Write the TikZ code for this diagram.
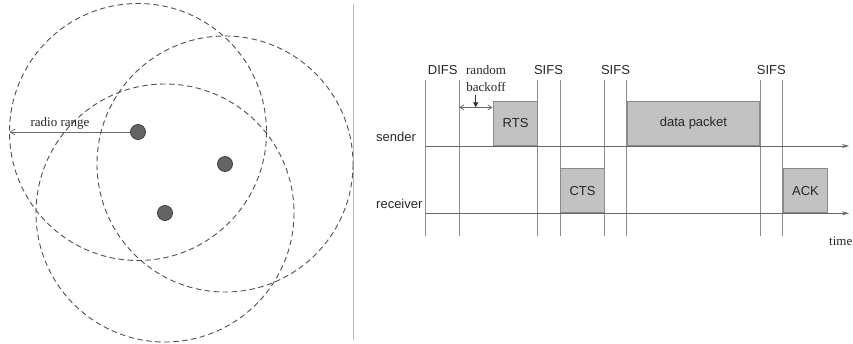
\documentclass[tikz,border=0pt]{standalone}
\usepackage{fontspec}
\setmainfont{Liberation Serif}
\newfontfamily\hsans{Liberation Sans}
\usetikzlibrary{arrows.meta}
\definecolor{dotfill}{HTML}{646464}
\definecolor{dotline}{HTML}{404040}
\definecolor{circline}{HTML}{505050}
\definecolor{vline}{HTML}{8C8C8C}
\definecolor{axisline}{HTML}{666666}
\definecolor{pktfill}{HTML}{C2C2C2}
\definecolor{pktline}{HTML}{8A8A8A}
\definecolor{sepline}{HTML}{F0A0A0}
\tikzset{
  nodedot/.style={circle,fill=dotfill,draw=dotline,line width=0.8pt,minimum size=15pt,inner sep=0pt},
  rangecirc/.style={draw=circline,dash pattern=on 5.5pt off 3.5pt,line width=0.9pt},
  sanslbl/.style={font=\hsans\fontsize{13}{13}\selectfont,inner sep=0pt,text=black!85},
  seriflbl/.style={font=\fontsize{13}{13}\selectfont,inner sep=0pt,text=black!85},
  timeline/.style={draw=vline,line width=0.8pt},
  timeaxis/.style={draw=axisline,line width=0.8pt,-{Stealth[length=7pt,width=4pt]}},
  pkt/.style={draw=pktline,fill=pktfill,line width=0.9pt,anchor=south west,inner sep=0pt,
    font=\hsans\fontsize{13}{13}\selectfont,text=black!85}
}
\begin{document}
\begin{tikzpicture}[x=1pt,y=-1pt]
\useasboundingbox (0,0) rectangle (853,343);
\clip (0,0) rectangle (853,343);
% separator
\draw[sepline,line width=0.9pt] (353,4) -- (353,340);
% ---------- left panel ----------
\node[nodedot] (n1) at (138,132) {};
\node[nodedot] (n2) at (225,164) {};
\node[nodedot] (n3) at (165,213) {};
\draw[rangecirc] (n1.center) circle[radius=128.5];
\draw[rangecirc] (n2.center) circle[radius=128];
\draw[rangecirc] (n3.center) circle[radius=129];
\coordinate (edge) at (9.5,132);
\draw[draw=axisline,line width=0.7pt,-{Straight Barb[length=5pt,width=6pt]}] (n1.west) -- (edge);
\node[seriflbl] (rr) at (60,123) {radio range};
% ---------- right panel ----------
\foreach \n/\x in {a/425.7,b/459.3,c/537,d/560,e/604.3,f/626.7,g/760,h/782.7}{
  \coordinate (t\n) at (\x,80);
  \coordinate (b\n) at (\x,236);
  \draw[timeline] (t\n) -- (b\n);
}
\coordinate (s0) at (425.7,146);
\coordinate (s1) at (849,146);
\coordinate (r0) at (425.7,213.3);
\coordinate (r1) at (849,213.3);
\draw[timeaxis] (s0) -- (s1);
\draw[timeaxis] (r0) -- (r1);
\node[sanslbl,anchor=west] (snd) at (376,137) {sender};
\node[sanslbl,anchor=west] (rcv) at (376,204) {receiver};
\node[sanslbl] (difs) at (442.7,70) {DIFS};
\node[sanslbl] (sifs1) at (548.5,70) {SIFS};
\node[sanslbl] (sifs2) at (615.5,70) {SIFS};
\node[sanslbl] (sifs3) at (771.3,70) {SIFS};
\node[seriflbl] (rand) at (486,70) {random};
\node[seriflbl] (back) at (486,87) {backoff};
\node[pkt,minimum width=43.7pt,minimum height=44.3pt] (rts) at (493.3,146) {RTS};
\node[pkt,minimum width=132.6pt,minimum height=44.3pt] (data) at (626.7,146) {data packet};
\node[pkt,minimum width=44.3pt,minimum height=44pt] (cts) at (560,213.3) {CTS};
\node[pkt,minimum width=44.6pt,minimum height=44pt] (ack) at (782.7,213.3) {ACK};
\coordinate (bk0) at (459.3,107.3);
\coordinate (bk1) at (492.5,107.3);
\draw[draw=axisline,line width=0.7pt,{Straight Barb[length=4pt,width=5pt]}-{Straight Barb[length=4pt,width=5pt]}] (bk0) -- (bk1);
\coordinate (bkm) at (475.7,107.3);
\coordinate (bkt) at (475.7,95);
\draw[draw=black!80,line width=0.8pt,-{Triangle[length=5pt,width=5pt]}] (bkt) -- (bkm);
\node[seriflbl,anchor=east] (time) at (852.5,241) {time};
\end{tikzpicture}
\end{document}
